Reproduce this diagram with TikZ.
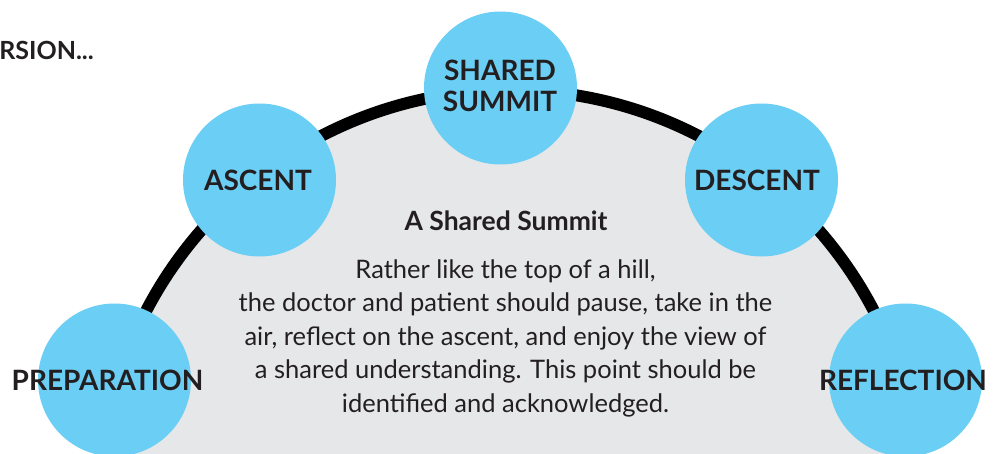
\documentclass[tikz,border=0pt]{standalone}
\usepackage{fontspec}
\setmainfont{Lato}
\definecolor{bubble}{HTML}{6BCEF5}
\definecolor{hill}{HTML}{E6E7E9}
\definecolor{ink}{HTML}{231F20}
\begin{document}
\begin{tikzpicture}[x=1pt,y=-1pt,
  stage/.style={circle,fill=bubble,minimum size=153pt,inner sep=0pt},
  lbl/.style={font=\fontsize{28}{31.5}\selectfont\bfseries,text=ink,align=center,inner sep=0pt},
  body/.style={font=\fontsize{25.5}{33.5}\selectfont,text=ink,align=center,inner sep=0pt}]
\useasboundingbox (0,0) rectangle (997,453);
\clip (0,0) rectangle (997,453);
\fill[white] (0,0) rectangle (997,453);
\coordinate (c) at (510,500);
\fill[hill] (c) circle (410);
\draw[line width=12pt,black] (c) circle (410);
\node[stage] (prep) at (114.5,380) {};
\node[stage] (asc) at (259.5,180) {};
\node[stage] (sum) at (500.5,88) {};
\node[stage] (desc) at (761.5,180) {};
\node[stage] (refl) at (905.5,380) {};
\node[lbl,anchor=base] at (107.5,390) {PREPARATION};
\node[lbl,anchor=base] at (258,190) {ASCENT};
\node[lbl,anchor=base] at (500,111.5) {SHARED\\SUMMIT};
\node[lbl,anchor=base] at (757,190) {DESCENT};
\node[lbl,anchor=base] at (903,390) {REFLECTION};
\node[font=\fontsize{25}{28}\selectfont\bfseries,text=ink,anchor=base east,inner sep=0pt] (ver) at (94,59) {VERSION...};
\node[font=\fontsize{26.5}{30}\selectfont\bfseries,text=ink,anchor=base,inner sep=0pt] (title) at (506,230.5) {A Shared Summit};
\node[body,anchor=base] (txt) at (505.5,412) {Rather like the top of a hill,\\the doctor and patient should pause, take in the\\air, reflect on the ascent, and enjoy the view of\\a shared understanding. This point should be\\identified and acknowledged.};
\end{tikzpicture}
\end{document}
